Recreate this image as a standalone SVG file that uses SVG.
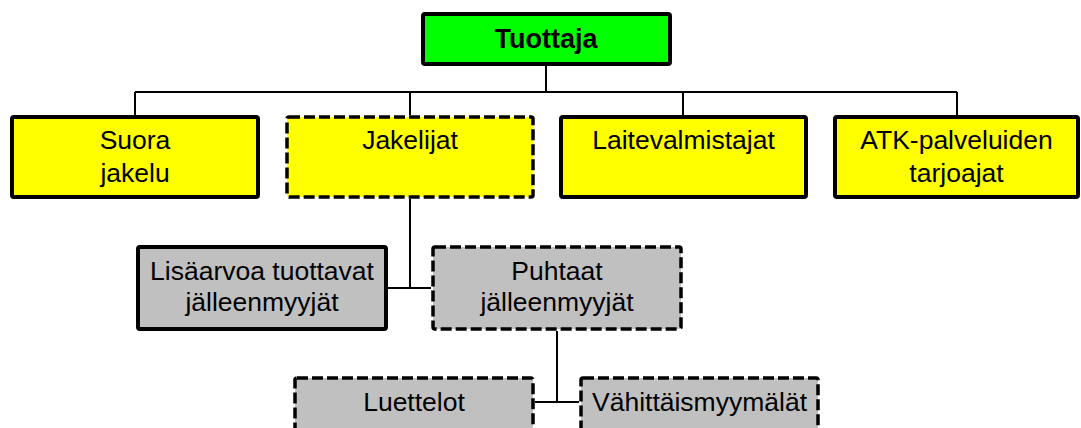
<svg xmlns="http://www.w3.org/2000/svg" width="1081" height="428" viewBox="0 0 1081 428">
<style>
.box{stroke:#000;stroke-width:4;stroke-linejoin:round}
.dash{stroke-dasharray:11 4;stroke-width:3.5}
.green{fill:#00FF00}
.yellow{fill:#FFFF00}
.gray{fill:#C0C0C0}
text{font-family:"Liberation Sans",Arial,sans-serif;font-size:26.5px;fill:#000;text-anchor:middle}
.bold{font-weight:bold;font-size:27px}
.conn{stroke:#000;stroke-width:2;fill:none}
</style>
<rect width="1081" height="428" fill="#fff"/>
<g id="connectors">
<path class="conn" d="M546,66 V92 M135,92 H957 M135,92 V115 M410,92 V115 M683,92 V115 M957,92 V115"/>
<path class="conn" d="M410,199 V288 M388,288 H431"/>
<path class="conn" d="M557,331 V402 M535,402 H579"/>
</g>
<g id="tuottaja">
<rect class="box green" x="423" y="14" width="247" height="50" rx="2"/>
<text class="bold" x="546" y="48">Tuottaja</text>
</g>
<g id="suora">
<rect class="box yellow" x="12" y="117" width="246" height="80" rx="2"/>
<text x="135" y="149">Suora</text>
<text x="135" y="181.5">jakelu</text>
</g>
<g id="jakelijat">
<rect class="box yellow dash" x="287" y="117" width="246" height="80" rx="2"/>
<text x="410" y="149">Jakelijat</text>
</g>
<g id="laitevalmistajat">
<rect class="box yellow" x="561" y="117" width="245" height="80" rx="2"/>
<text x="683.5" y="149">Laitevalmistajat</text>
</g>
<g id="atk">
<rect class="box yellow" x="835" y="117" width="243" height="80" rx="2"/>
<text x="956.5" y="149">ATK-palveluiden</text>
<text x="956.5" y="181.5">tarjoajat</text>
</g>
<g id="lisaarvoa">
<rect class="box gray" x="138" y="247" width="248" height="82" rx="2"/>
<text x="262" y="280">Lisäarvoa tuottavat</text>
<text x="262" y="311">jälleenmyyjät</text>
</g>
<g id="puhtaat">
<rect class="box gray dash" x="433" y="247" width="248" height="82" rx="2"/>
<text x="557" y="280">Puhtaat</text>
<text x="557" y="311">jälleenmyyjät</text>
</g>
<g id="luettelot">
<rect class="box gray dash" x="295" y="378" width="238" height="70" rx="2"/>
<text x="414" y="410.5">Luettelot</text>
</g>
<g id="vahittais">
<rect class="box gray dash" x="581" y="378" width="237" height="70" rx="2"/>
<text x="699.5" y="410.5">Vähittäismyymälät</text>
</g>
</svg>
